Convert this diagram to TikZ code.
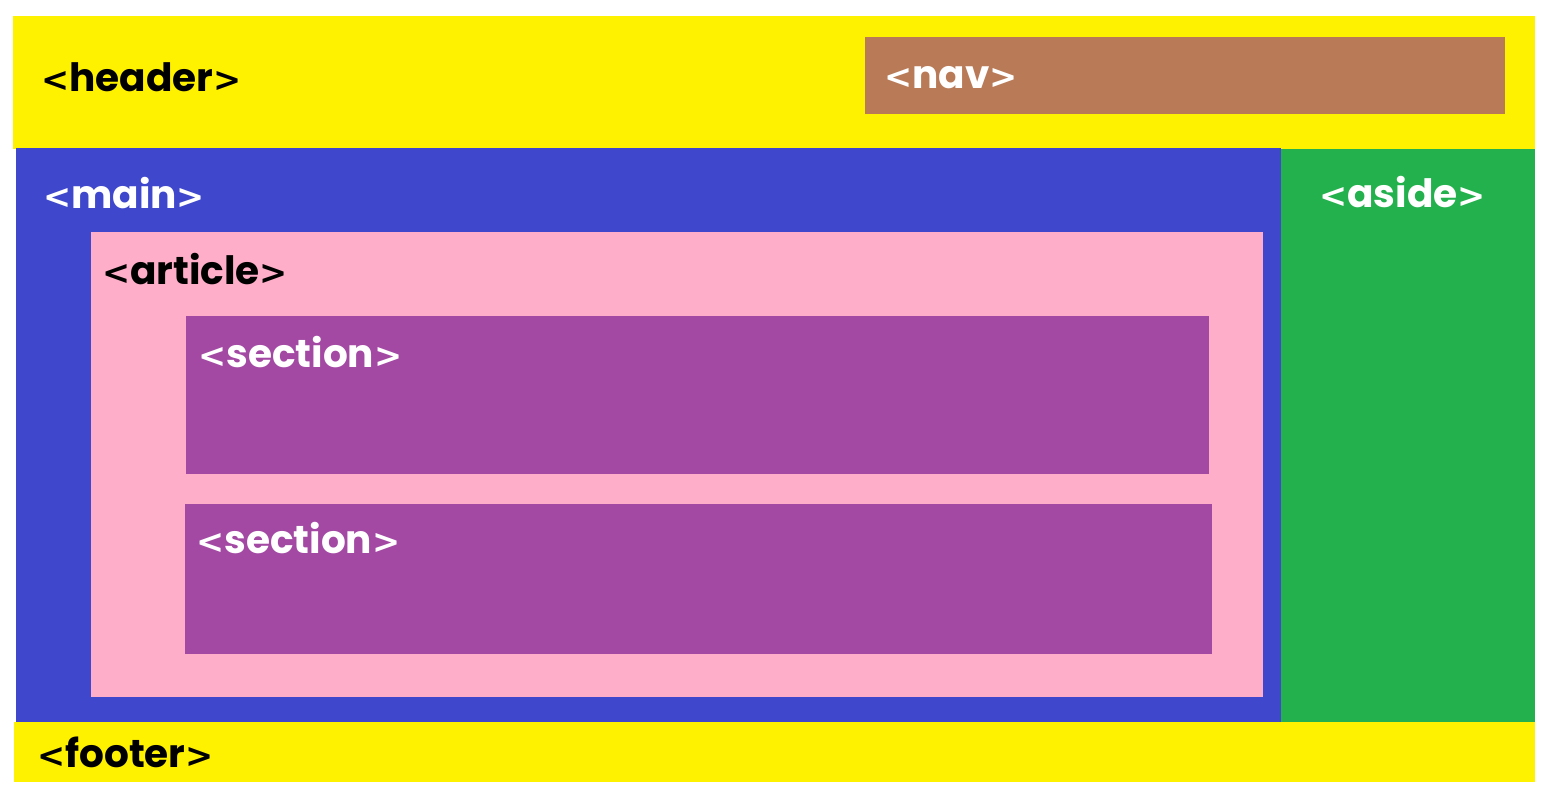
\documentclass[tikz,border=0pt]{standalone}
\usepackage{fontspec}
\setmainfont{Poppins}[BoldFont={* Bold}]
\newfontfamily\brkfont{DejaVu Sans}[BoldFont={* Bold}, Scale=0.86]
\newcommand{\lt}{{\brkfont\bfseries<}}
\newcommand{\gtb}{{\brkfont\bfseries>}}
\newcommand{\tagtext}[1]{\lt#1\gtb}
\definecolor{hdryellow}{HTML}{FFF200}
\definecolor{navbrown}{HTML}{B97A57}
\definecolor{mainblue}{HTML}{3F48CC}
\definecolor{asidegreen}{HTML}{22B14C}
\definecolor{artpink}{HTML}{FFAEC9}
\definecolor{secpurple}{HTML}{A349A4}
\tikzset{
  tag/.style={anchor=base west, inner sep=0pt, font=\fontsize{39}{42}\selectfont\bfseries},
  darktag/.style={tag, text=black},
  lighttag/.style={tag, text=white},
}
\begin{document}
\begin{tikzpicture}[x=1pt,y=-1pt]
\useasboundingbox (0,0) rectangle (1554,796);
\fill[white] (0,0) rectangle (1554,796);
% header
\fill[hdryellow] (13,16) rectangle (1535,149);
\fill[navbrown] (865,37) rectangle (1505,114);
% footer
\fill[hdryellow] (14,722) rectangle (1535,782);
% main
\fill[mainblue] (16,148) rectangle (1281,722);
% aside
\fill[asidegreen] (1281,149) rectangle (1535,722);
% article
\fill[artpink] (91,232) rectangle (1263,697);
% sections
\fill[secpurple] (186,316) rectangle (1209,474);
\fill[secpurple] (185,504) rectangle (1212,654);
% labels
\node[darktag] (header) at (41,91) {\tagtext{header}};
\node[lighttag] (nav) at (884,88) {\tagtext{nav}};
\node[lighttag] (main) at (43,208) {\tagtext{main}};
\node[lighttag] (aside) at (1319,207) {\tagtext{aside}};
\node[darktag] (article) at (102,284) {\tagtext{article}};
\node[lighttag] (section1) at (198,367) {\tagtext{section}};
\node[lighttag] (section2) at (196,553) {\tagtext{section}};
\node[darktag] (footer) at (37,767) {\tagtext{footer}};
\end{tikzpicture}
\end{document}
